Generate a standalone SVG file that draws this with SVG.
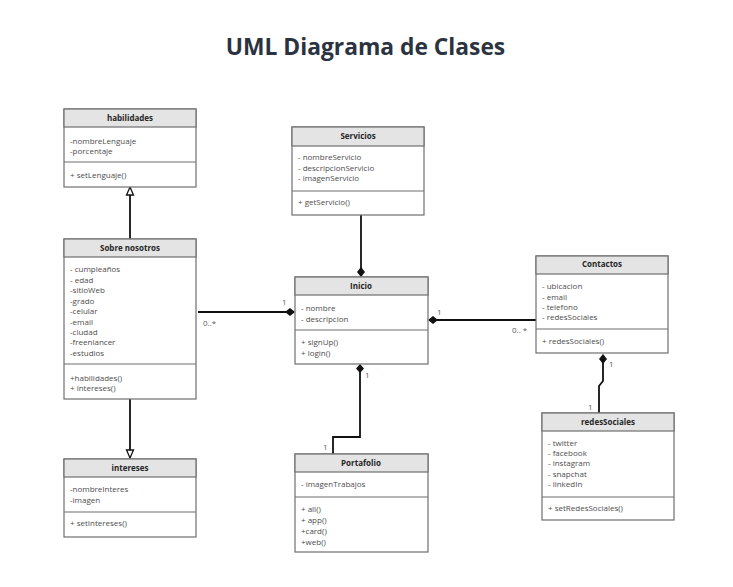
<svg xmlns="http://www.w3.org/2000/svg" width="733" height="587" viewBox="0 0 733 587">
<style>
.box{fill:#ffffff;stroke:#6f6f6f;stroke-width:1.2}
.hdr{fill:#e4e4e4;stroke:#6f6f6f;stroke-width:1.2}
.div{stroke:#6f6f6f;stroke-width:1.2}
.t{font-family:"Open Sans","Liberation Sans",sans-serif;font-size:8px;fill:#4d4d4d}
.h{font-family:"Open Sans","Liberation Sans",sans-serif;font-size:8px;font-weight:bold;fill:#262626;text-anchor:middle}
.m{font-family:"Open Sans","Liberation Sans",sans-serif;font-size:8px;fill:#5a5a5a}
.ln{fill:none;stroke:#111;stroke-width:1.8}
.dia{fill:#111;stroke:none}
.tri{fill:#fff;stroke:#111;stroke-width:1.3}
</style>
<rect width="733" height="587" fill="#ffffff"/>
<text x="365.5" y="55" text-anchor="middle" style="font-family:'Open Sans','Liberation Sans',sans-serif;font-size:22.8px;font-weight:bold;fill:#2b3340">UML Diagrama de Clases</text>

<g id="connectors">
  <!-- Sobre nosotros -> habilidades (generalization) -->
  <path class="ln" d="M130,239 V195"/>
  <path class="tri" d="M130,187 L133.5,195 L126.5,195 Z"/>
  <!-- Sobre nosotros -> intereses -->
  <path class="ln" d="M130,399 V450"/>
  <path class="tri" d="M130,458 L133.5,450 L126.5,450 Z"/>
  <!-- Servicios -> Inicio -->
  <path class="ln" d="M361,215 V268"/>
  <path class="dia" d="M361,267 L365,272 L361,277 L357,272 Z"/>
  <!-- Sobre nosotros - Inicio -->
  <path class="ln" d="M198,312 H286"/>
  <path class="dia" d="M285,312 L290,308 L295,312 L290,316 Z"/>
  <text class="m" x="282" y="305">1</text>
  <text class="m" x="203" y="326">0..*</text>
  <!-- Inicio - Contactos -->
  <path class="ln" d="M437,320 H536"/>
  <path class="dia" d="M428,320 L433,316 L438,320 L433,324 Z"/>
  <text class="m" x="437" y="315">1</text>
  <text class="m" x="512" y="333">0.. *</text>
  <!-- Inicio - Portafolio -->
  <path class="ln" d="M360,372 V437 H333 V454"/>
  <path class="dia" d="M360,364 L364,368.5 L360,373 L356,368.5 Z"/>
  <text class="m" x="365" y="378">1</text>
  <text class="m" x="323" y="450">1</text>
  <!-- Contactos - redesSociales -->
  <path class="ln" d="M603,363 V381 L599,386 V413"/>
  <path class="dia" d="M603,354 L607,359 L603,364 L599,359 Z"/>
  <text class="m" x="609" y="367">1</text>
  <text class="m" x="588" y="410">1</text>
</g>

<g id="habilidades">
  <rect class="box" x="64" y="109" width="132" height="78"/>
  <rect class="hdr" x="64" y="109" width="132" height="18"/>
  <text class="h" x="130" y="121">habilidades</text>
  <text class="t" x="70" y="144">-nombreLenguaje</text>
  <text class="t" x="70" y="154">-porcentaje</text>
  <line class="div" x1="64" y1="162" x2="196" y2="162"/>
  <text class="t" x="70" y="178">+ setLenguaje()</text>
</g>

<g id="sobre-nosotros">
  <rect class="box" x="64" y="239" width="132" height="160"/>
  <rect class="hdr" x="64" y="239" width="132" height="18"/>
  <text class="h" x="130" y="251">Sobre nosotros</text>
  <text class="t" x="70" y="272">- cumpleaños</text>
  <text class="t" x="70" y="283">- edad</text>
  <text class="t" x="70" y="293">-sitioWeb</text>
  <text class="t" x="70" y="304">-grado</text>
  <text class="t" x="70" y="314">-celular</text>
  <text class="t" x="70" y="325">-email</text>
  <text class="t" x="70" y="335">-ciudad</text>
  <text class="t" x="70" y="345">-freenlancer</text>
  <text class="t" x="70" y="356">-estudios</text>
  <line class="div" x1="64" y1="364" x2="196" y2="364"/>
  <text class="t" x="70" y="381">+habilidades()</text>
  <text class="t" x="70" y="391">+ intereses()</text>
</g>

<g id="intereses">
  <rect class="box" x="64" y="459" width="132" height="78"/>
  <rect class="hdr" x="64" y="459" width="132" height="18"/>
  <text class="h" x="130" y="471">intereses</text>
  <text class="t" x="70" y="492">-nombreInteres</text>
  <text class="t" x="70" y="503">-imagen</text>
  <line class="div" x1="64" y1="512" x2="196" y2="512"/>
  <text class="t" x="70" y="526">+ setIntereses()</text>
</g>

<g id="servicios">
  <rect class="box" x="292" y="127" width="132" height="88"/>
  <rect class="hdr" x="292" y="127" width="132" height="19"/>
  <text class="h" x="358" y="139">Servicios</text>
  <text class="t" x="298" y="160">- nombreServicio</text>
  <text class="t" x="298" y="171">- descripcionServicio</text>
  <text class="t" x="298" y="181">- imagenServicio</text>
  <line class="div" x1="292" y1="191" x2="424" y2="191"/>
  <text class="t" x="298" y="205">+ getServicio()</text>
</g>

<g id="inicio">
  <rect class="box" x="295" y="277" width="133" height="87"/>
  <rect class="hdr" x="295" y="277" width="133" height="18"/>
  <text class="h" x="361" y="289">Inicio</text>
  <text class="t" x="301" y="311">- nombre</text>
  <text class="t" x="301" y="322">- descripcion</text>
  <line class="div" x1="295" y1="330" x2="428" y2="330"/>
  <text class="t" x="301" y="345">+ signUp()</text>
  <text class="t" x="301" y="356">+ login()</text>
</g>

<g id="contactos">
  <rect class="box" x="536" y="256" width="132" height="97"/>
  <rect class="hdr" x="536" y="256" width="132" height="18"/>
  <text class="h" x="602" y="267">Contactos</text>
  <text class="t" x="542" y="289">- ubicacion</text>
  <text class="t" x="542" y="300">- email</text>
  <text class="t" x="542" y="310">- telefono</text>
  <text class="t" x="542" y="320">- redesSociales</text>
  <line class="div" x1="536" y1="329" x2="668" y2="329"/>
  <text class="t" x="542" y="344">+ redesSociales()</text>
</g>

<g id="redesSociales">
  <rect class="box" x="542" y="413" width="132" height="107"/>
  <rect class="hdr" x="542" y="413" width="132" height="18"/>
  <text class="h" x="608" y="425">redesSociales</text>
  <text class="t" x="548" y="446">- twitter</text>
  <text class="t" x="548" y="456">- facebook</text>
  <text class="t" x="548" y="466">- instagram</text>
  <text class="t" x="548" y="477">- snapchat</text>
  <text class="t" x="548" y="487">- linkedIn</text>
  <line class="div" x1="542" y1="497" x2="674" y2="497"/>
  <text class="t" x="548" y="511">+ setRedesSociales()</text>
</g>

<g id="portafolio">
  <rect class="box" x="295" y="454" width="133" height="98"/>
  <rect class="hdr" x="295" y="454" width="133" height="18"/>
  <text class="h" x="361" y="466">Portafolio</text>
  <text class="t" x="301" y="487">- imagenTrabajos</text>
  <line class="div" x1="295" y1="497" x2="428" y2="497"/>
  <text class="t" x="301" y="512">+ all()</text>
  <text class="t" x="301" y="523">+ app()</text>
  <text class="t" x="301" y="534">+card()</text>
  <text class="t" x="301" y="545">+web()</text>
</g>
</svg>
